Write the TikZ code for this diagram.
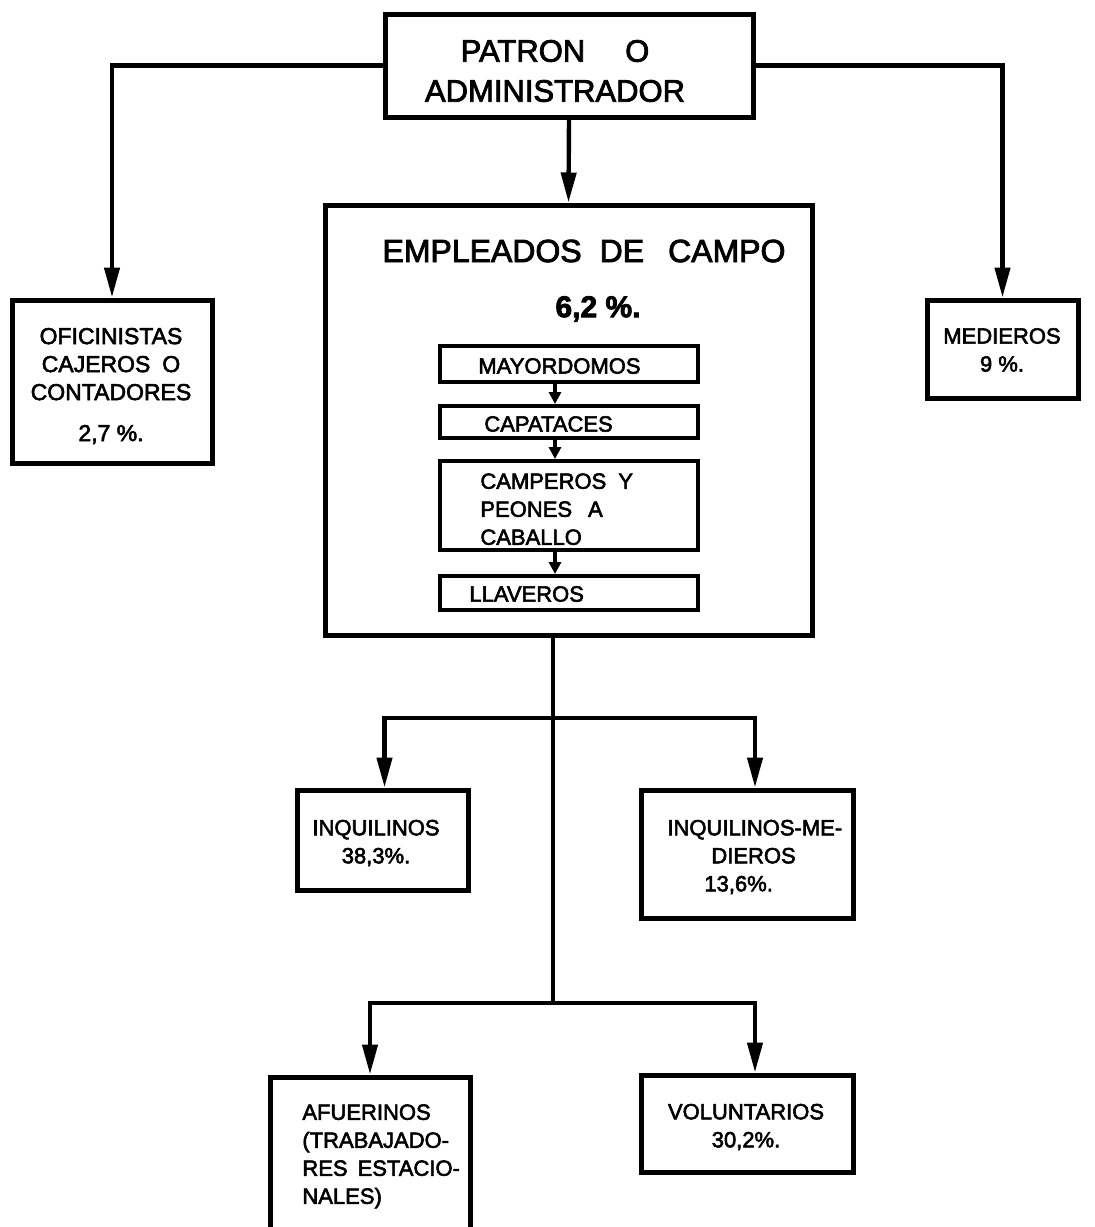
\documentclass[tikz,border=0pt]{standalone}
\usepackage{fontspec}
\setmainfont{Liberation Sans}[FakeBold=2.6]
\usetikzlibrary{arrows.meta}
\begin{document}
\begin{tikzpicture}[x=0.5pt,y=-0.5pt,
  box/.style={draw, line width=2.5pt, inner sep=0pt},
  ibox/.style={draw, line width=2pt, inner sep=0pt, minimum width=129pt},
  lbl/.style={inner sep=0pt, align=center, font=\fontsize{11}{14}\selectfont},
  conn/.style={line width=2.2pt},
  arr/.style={conn, -{Triangle[length=15pt,width=7.5pt]}},
  sarr/.style={line width=2pt, -{Triangle[length=6pt,width=6pt]}},
]
\useasboundingbox (0,0) rectangle (1094,1227);
\fill[white] (0,0) rectangle (1094,1227);

% boxes
\node[box, minimum width=184pt, minimum height=51.5pt] (patron) at (569,65.5) {};
\node[box, minimum width=243.5pt, minimum height=215pt] (emp) at (568.5,420) {};
\node[box, minimum width=100pt, minimum height=81.5pt] (ofi) at (112,381.5) {};
\node[box, minimum width=75.5pt, minimum height=49pt] (med) at (1002.5,349) {};
\node[ibox, minimum height=18pt] (may) at (569,364) {};
\node[ibox, minimum height=16pt] (cap) at (569,422) {};
\node[ibox, minimum height=44.5pt] (cmp) at (569,505.5) {};
\node[ibox, minimum height=17pt] (lla) at (569,593) {};
\node[box, minimum width=85.5pt, minimum height=50pt] (inq) at (382.5,840) {};
\node[box, minimum width=106pt, minimum height=64pt] (inqm) at (747,854) {};
\node[box, minimum width=106pt, minimum height=48.5pt] (vol) at (747,1123.5) {};
\begin{scope}
  \clip (0,0) rectangle (1094,1227);
  \node[box, minimum width=100pt, minimum height=91.5pt] (afu) at (370,1168.5) {};
\end{scope}

% texts
\node[lbl, font=\fontsize{15.5}{20}\selectfont] (tpatron) at (555,71)
  {PATRON\hspace{20pt}O\\ADMINISTRADOR};
\node[lbl, font=\fontsize{16}{20}\selectfont] (temp) at (584,251)
  {EMPLEADOS\hspace{9pt}DE\hspace{12pt}CAMPO};
\node[lbl, font=\bfseries\fontsize{15}{18}\selectfont] (tpct) at (598,309) {6,2 \%.};
\node[lbl, font=\fontsize{11.5}{14}\selectfont] (tofi) at (111,386)
  {OFICINISTAS\\CAJEROS\hspace{6pt}O\\CONTADORES\\[6.5pt]2,7 \%.};
\node[lbl] (tmed) at (1002,350) {MEDIEROS\\9 \%.};
\node[lbl, anchor=west] (tmay) at (478,366) {MAYORDOMOS};
\node[lbl, anchor=west] (tcap) at (484,424) {CAPATACES};
\node[lbl, anchor=north west, align=left] (tcmp) at (480,473)
  {CAMPEROS\hspace{6pt}Y\\PEONES\hspace{8pt}A\\CABALLO};
\node[lbl, anchor=west] (tlla) at (469,594) {LLAVEROS};
\node[lbl] (tinq) at (376,843) {INQUILINOS\\38,3\%.};
\node[lbl, anchor=west, align=left] (tinqm) at (667,857)
  {INQUILINOS-ME-\\\hspace*{22pt}DIEROS\\\hspace*{18.5pt}13,6\%.};
\node[lbl, anchor=north west, align=left] (tafu) at (302,1104)
  {AFUERINOS\\(TRABAJADO-\\RES\hspace{5pt}ESTACIO-\\NALES)};
\node[lbl] (tvol) at (746,1127) {VOLUNTARIOS\\30,2\%.};

% connectors
\coordinate (j1) at (553,718);
\coordinate (j2) at (553,1003);
\coordinate (ax) at (555,0);
\draw[arr] (patron.west) -| (ofi.north);
\draw[arr] (patron.east) -| (med.north);
\draw[arr] (patron.south) -- (emp.north);
\draw[conn] (emp.south -| j1) -- (j2);
\draw[arr] (j1) -| ([xshift=1pt]inq.north);
\draw[arr] (j1) -| ([xshift=4pt]inqm.north);
\draw[arr] (j2) -| (afu.north);
\draw[arr] (j2) -| ([xshift=4pt]vol.north);
\draw[sarr] (may.south -| ax) -- (cap.north -| ax);
\draw[sarr] (cap.south -| ax) -- (cmp.north -| ax);
\draw[sarr] (cmp.south -| ax) -- (lla.north -| ax);
\end{tikzpicture}
\end{document}
